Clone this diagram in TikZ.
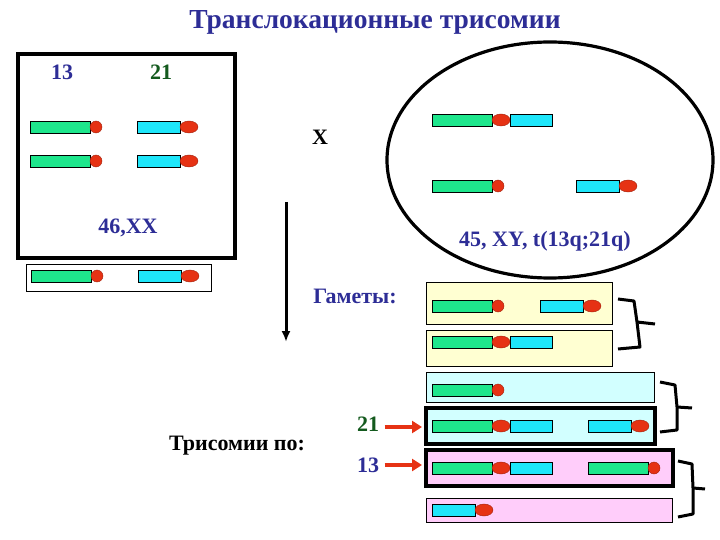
\documentclass[tikz,border=0pt]{standalone}
\usepackage{fontspec}
\setmainfont{Liberation Serif}
\usetikzlibrary{arrows.meta}
\definecolor{navy}{RGB}{45,45,150}
\definecolor{dgreen}{RGB}{20,90,30}
\definecolor{cg}{RGB}{30,230,140}
\definecolor{cc}{RGB}{30,230,250}
\definecolor{cr}{RGB}{230,50,20}
\definecolor{yel}{RGB}{255,255,210}
\definecolor{lcy}{RGB}{210,255,255}
\definecolor{pnk}{RGB}{255,205,250}
\begin{document}
\begin{tikzpicture}[x=1pt,y=-1pt,
  gch/.style={fill=cg,draw=black,line width=0.8pt},
  cch/.style={fill=cc,draw=black,line width=0.8pt},
  cen/.style={fill=cr,draw=cr!70!black,line width=0.4pt},
  lbl/.style={font=\bfseries\fontsize{22}{25}\selectfont},
  brace/.style={line width=3pt,line join=round}]
\useasboundingbox (0,0) rectangle (720,540);
\node[lbl,navy,font=\bfseries\fontsize{27.5}{30}\selectfont] (title) at (375,22) {Транслокационные трисомии};
% left box
\draw[line width=3.2pt] (18,54) rectangle (235,258);
\node[lbl,navy] (n13) at (62,72) {13};
\node[lbl,dgreen] (n21) at (161,72) {21};
\node[lbl,navy] (xx) at (128,228) {46,XX};
\newcommand\gchr[3]{\draw[gch] (#1,#2) rectangle ++(60,12); \fill[cen] (#1+66,#2+6) circle (6);}
\newcommand\cchr[2]{\draw[cch] (#1,#2) rectangle ++(43,12); \fill[cen] (#1+52,#2+6) ellipse (9 and 6);}
\newcommand\tchr[2]{\draw[gch] (#1,#2) rectangle ++(60,12); \draw[cch] (#1+78,#2) rectangle ++(42,12); \fill[cen] (#1+69,#2+6) ellipse (9 and 6);}
\gchr{30}{121}{}\cchr{137}{121}
\gchr{30}{155}{}\cchr{137}{155}
\draw[line width=0.8pt] (26,264) rectangle (211,291);
\gchr{31}{270}{}\cchr{138}{270}
\node[lbl] (x) at (320,137) {X};
\draw[line width=3pt,-{Latex[length=11pt,width=9pt]}] (286,202) -- (286,342);
% ellipse
\draw[line width=3.2pt] (550,160) ellipse (163 and 118);
\tchr{432}{114}
\gchr{432}{180}{}\cchr{576}{180}
\node[lbl,navy] (k) at (545,241) {45, XY, t(13q;21q)};
\node[lbl,navy] (gam) at (355,296) {Гаметы:};
% gametes
\draw[fill=yel,line width=0.8pt] (426,282) rectangle (612,324);
\draw[fill=yel,line width=0.8pt] (426,330) rectangle (612,366);
\draw[fill=lcy,line width=0.8pt] (426,372) rectangle (654,402);
\draw[fill=lcy,line width=3.2pt] (426,408) rectangle (655,444);
\draw[fill=pnk,line width=3.2pt] (426,450) rectangle (673,486);
\draw[fill=pnk,line width=0.8pt] (426,498) rectangle (672,522);
\gchr{432}{300}{}\cchr{540}{300}
\tchr{432}{336}
\gchr{432}{384}{}
\tchr{432}{420}\cchr{588}{420}
\tchr{432}{462}\gchr{588}{462}{}
\cchr{432}{504}
% braces
\draw[brace] (618,299) -- (634,301) -- (637,322) -- (640,347) -- (618,349);
\draw[brace] (637,322) -- (655,324);
\draw[brace] (660,382) -- (675,385) -- (677,407) -- (677,430) -- (660,432);
\draw[brace] (677,407) -- (692,408);
\draw[brace] (678,461) -- (692,464) -- (693,488) -- (693,514) -- (678,517);
\draw[brace] (693,488) -- (705,489);
\node[lbl] (tri) at (237,446) {Трисомии по:};
\node[lbl,dgreen] (t21) at (368,424) {21};
\node[lbl,navy] (t13) at (368,465) {13};
\coordinate (a1) at (422,427); \coordinate (a2) at (422,465);
\draw[cr,line width=4pt,-{Triangle[length=10pt,width=12pt]}] ([xshift=2pt,yshift=-3pt]t21.east) -- (a1);
\draw[cr,line width=4pt,-{Triangle[length=10pt,width=12pt]}] ([xshift=2pt]t13.east) -- (a2);
\end{tikzpicture}
\end{document}
